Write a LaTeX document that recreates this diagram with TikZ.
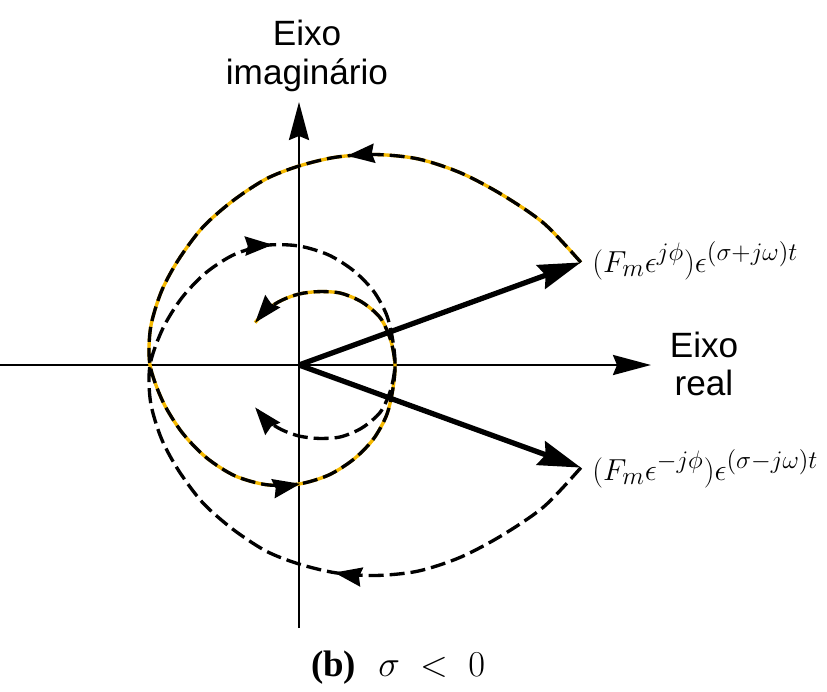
\documentclass[tikz,border=0pt]{standalone}
\usepackage{fontspec}
\newfontfamily\axisfont{Liberation Sans}
\newfontfamily\capfont{Liberation Serif}
\usetikzlibrary{arrows.meta,decorations.markings}

\definecolor{trace}{RGB}{245,185,0}

\tikzset{
  axis/.style={line width=1.5pt, -{Stealth[length=0.76cm,width=0.4cm,inset=0.08cm]}},
  phasor/.style={line width=3pt, -{Stealth[length=0.85cm,width=0.5cm,inset=0.1cm]}},
  spiral/.style={line width=1.9pt, dash pattern=on 0.3cm off 0.12cm,
    -{Stealth[length=0.55cm,width=0.38cm,inset=0.05cm]}},
  midtips/.style n args={2}{postaction={decorate}, decoration={markings,
    mark=at position #1 with {\arrow{Stealth[length=0.55cm,width=0.38cm,inset=0.05cm]}},
    mark=at position #2 with {\arrow{Stealth[length=0.55cm,width=0.38cm,inset=0.05cm]}}}},
  axislabel/.style={font=\axisfont\fontsize{20}{22}\selectfont, align=center, inner sep=0pt},
  tiplabel/.style={font=\fontsize{19}{22}\selectfont, anchor=base west, inner sep=0pt},
}

% decaying spiral, polar points (angle:radius)
\newcommand{\spiralpath}{plot[smooth] coordinates {(20:300) (30:283) (40:265) (50:251)
  (60:238) (70:224) (80:211) (90:199) (100:189) (112:177) (125:168) (139:160)
  (152:156) (166:153) (180:149) (195:141) (210:135) (225:131) (240:128) (255:124)
  (270:119) (285:114) (300:109) (315:105) (330:101) (345:97) (360:96) (375:95)
  (390:94) (405:89) (420:83) (435:76) (450:71) (465:67) (480:64) (496:61)}}

\begin{document}
\begin{tikzpicture}[x=0.02cm, y=0.02cm]
  \useasboundingbox (-299,-326) rectangle (528,365);

  % Points
  \coordinate (O) at (0,0);
  \coordinate (T1) at (20:300);
  \coordinate (T2) at (-20:300);
  \coordinate (xl) at (-299,0);
  \coordinate (xr) at (352,0);
  \coordinate (yb) at (0,-263);
  \coordinate (yt) at (0,263);

  % Axes
  \draw[line width=1.5pt] (xl) -- (O);
  \draw[axis] (O) -- (xr);
  \draw[line width=1.5pt] (yb) -- (O);
  \draw[axis] (O) -- (yt);

  % Spirals
  \draw[line width=1.9pt, trace] \spiralpath;
  \draw[spiral, midtips={0.232}{0.689}] \spiralpath;
  \begin{scope}[yscale=-1]
    \draw[spiral, midtips={0.243}{0.665}] \spiralpath;
  \end{scope}

  % Phasors
  \draw[phasor] (O) -- (T1);
  \draw[phasor] (O) -- (T2);

  % Labels
  \node[axislabel] (imag) at (8,309) {Eixo\\imagin\'ario};
  \node[axislabel] (real) at (405,1) {Eixo\\real};
  \node[tiplabel] (up) at (293,93) {$(F_m\epsilon^{j\phi})\epsilon^{(\sigma+j\omega)t}$};
  \node[tiplabel] (down) at (293,-115) {$(F_m\epsilon^{-j\phi})\epsilon^{(\sigma-j\omega)t}$};
  \node[font=\fontsize{21}{24}\selectfont, anchor=base] (cap) at (99,-311)
    {{\capfont\bfseries (b)}\ \ $\sigma\;<\;0$};
\end{tikzpicture}
\end{document}
